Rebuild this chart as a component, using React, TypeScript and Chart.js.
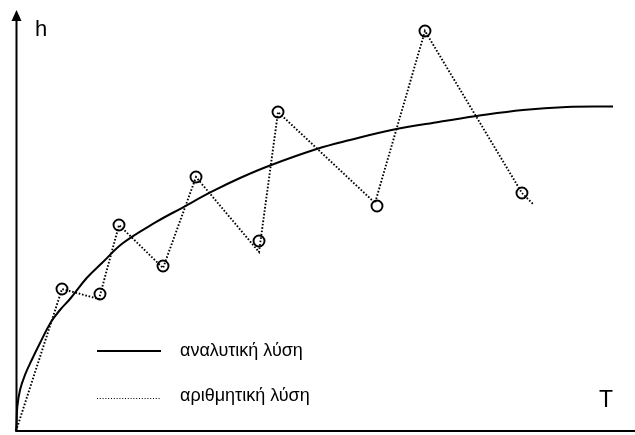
import React, { useEffect, useRef } from "react";
import { Chart, registerables } from "chart.js";

Chart.register(...registerables);

// Analytic solution h(T) (arbitrary units)
const analyticT = [0, 0.08, 0.21, 0.65, 1.45, 2.54, 3.88, 5.65, 7.11, 8.72, 11.42, 14.05, 17.29, 22.73, 26.77, 31.62, 36.19, 41.03, 48.58, 53.96, 60.69, 68.5, 74.43, 81.91, 88.97, 96.45];
const analyticH = [0, 1.43, 5.73, 9.79, 13.37, 16.95, 21.0, 26.01, 28.88, 31.5, 36.52, 40.33, 44.87, 49.95, 53.22, 57.11, 60.38, 63.37, 67.3, 69.45, 71.84, 73.82, 75.18, 76.61, 77.33, 77.45];

// Numerical solution path (dotted polyline)
const numericT = [0, 7.43, 13.41, 16.64, 23.75, 29.08, 39.26, 42.33, 58.0, 66.07, 81.74, 83.68];
const numericH = [0, 33.89, 31.5, 49.16, 38.9, 60.62, 42.72, 76.13, 54.42, 95.47, 56.8, 53.94];

// Numerical solution markers (circles)
const markerT = [7.43, 13.57, 16.64, 23.75, 29.08, 39.26, 42.33, 58.32, 66.07, 81.74];
const markerH = [33.89, 32.7, 49.16, 39.38, 60.62, 45.35, 76.13, 53.7, 95.47, 56.8];

const yLabel = "h";
const xLabel = "T";
const legendLabels = ["αναλυτική λύση", "αριθμητική λύση"];

const FONT = "'Liberation Sans', Arial, sans-serif";

const toXY = (xs: number[], ys: number[]) => xs.map((x, i) => ({ x, y: ys[i] }));

const decorPlugin = {
  id: "decor",
  afterDraw(chart: any) {
    const ctx = chart.ctx as CanvasRenderingContext2D;
    const { left, right, bottom, top } = chart.chartArea;
    ctx.save();
    ctx.strokeStyle = "#000";
    ctx.fillStyle = "#000";
    ctx.lineWidth = 2;
    ctx.setLineDash([]);
    const ax = left + 0.5;
    // x axis
    ctx.beginPath();
    ctx.moveTo(ax - 1, bottom);
    ctx.lineTo(right, bottom);
    ctx.stroke();
    // y axis
    ctx.beginPath();
    ctx.moveTo(ax, bottom + 1);
    ctx.lineTo(ax, top + 8);
    ctx.stroke();
    // arrowhead
    ctx.beginPath();
    ctx.moveTo(ax, top - 2);
    ctx.lineTo(ax - 5, top + 9);
    ctx.lineTo(ax + 5, top + 9);
    ctx.closePath();
    ctx.fill();

    // axis labels
    ctx.font = `22px ${FONT}`;
    ctx.textBaseline = "alphabetic";
    ctx.textAlign = "left";
    ctx.fillText(yLabel, 35, 36);
    ctx.font = `23px ${FONT}`;
    ctx.fillText(xLabel, 599, 407);

    // legend
    ctx.lineWidth = 2;
    ctx.beginPath();
    ctx.moveTo(97, 351);
    ctx.lineTo(161, 351);
    ctx.stroke();
    ctx.lineWidth = 1.2;
    ctx.setLineDash([1, 1.8]);
    ctx.beginPath();
    ctx.moveTo(97, 398.5);
    ctx.lineTo(161, 398.5);
    ctx.stroke();
    ctx.setLineDash([]);
    ctx.font = `18px ${FONT}`;
    ctx.textBaseline = "middle";
    ctx.fillText(legendLabels[0], 180, 351);
    ctx.fillText(legendLabels[1], 180, 396);
    ctx.restore();
  },
};

export default function App() {
  const ref = useRef<HTMLCanvasElement>(null);
  useEffect(() => {
    if (!ref.current) return;
    const chart = new Chart(ref.current, {
      type: "scatter",
      data: {
        datasets: [
          {
            label: legendLabels[0],
            data: toXY(analyticT, analyticH),
            showLine: true,
            borderColor: "#000",
            borderWidth: 2,
            pointRadius: 0,
            tension: 0.4,
            fill: false,
          } as any,
          {
            label: legendLabels[1],
            data: toXY(numericT, numericH),
            showLine: true,
            borderColor: "#000",
            borderWidth: 1.9,
            borderDash: [1.6, 1.8],
            pointRadius: 0,
            tension: 0,
            fill: false,
          } as any,
          {
            label: "markers",
            data: toXY(markerT, markerH),
            showLine: false,
            pointRadius: 5.5,
            pointBorderWidth: 1.9,
            pointBorderColor: "#000",
            pointBackgroundColor: "rgba(0,0,0,0)",
          } as any,
        ],
      },
      options: {
        animation: false,
        responsive: false,
        layout: { autoPadding: false, padding: { left: 16, top: 12, right: 0, bottom: 4 } } as any,
        scales: {
          x: { type: "linear", min: 0, max: 100, display: false },
          y: { type: "linear", min: 0, max: 100, display: false },
        },
        plugins: {
          legend: { display: false },
          tooltip: { enabled: false },
        },
        clip: false as any,
      },
      plugins: [decorPlugin],
    });
    return () => chart.destroy();
  }, []);
  return (
    <div style={{ position: "absolute", left: 0, top: 0, width: 635, height: 435, background: "#fff" }}>
      <canvas ref={ref} width={635} height={435} style={{ display: "block" }} />
    </div>
  );
}
